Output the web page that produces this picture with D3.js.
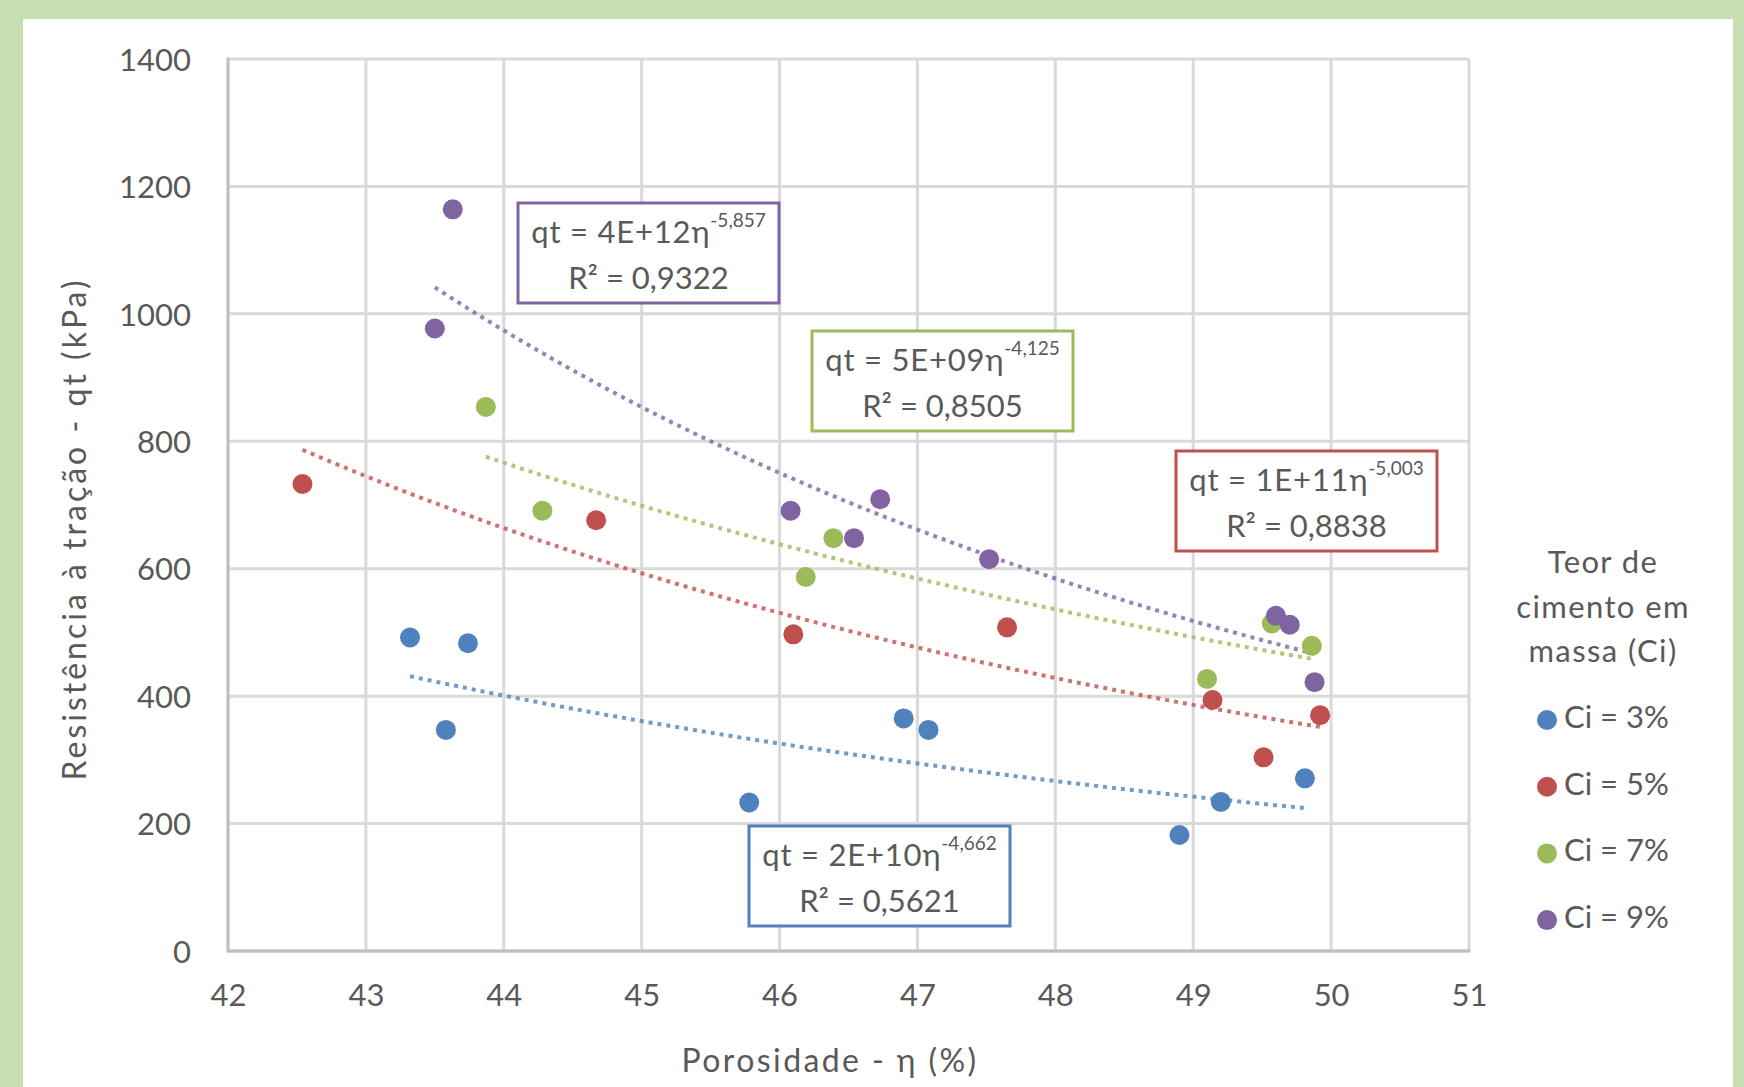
<!DOCTYPE html>
<html>
<head>
<meta charset="utf-8">
<script src="https://cdn.jsdelivr.net/npm/d3@7"></script>
<style>
    html, body { margin: 0; padding: 0; background: #c6e0b4; }
    svg { display: block; }
    text { font-family: Lato, "Open Sans", sans-serif; fill: #595959; }
</style>
</head>
<body>
<svg id="chart" width="1744" height="1087"></svg>
<script>
// ---- data ----
var seriesNames = ['Ci = 3%', 'Ci = 5%', 'Ci = 7%', 'Ci = 9%'];
var seriesColors = ['#4f81bd', '#c0504d', '#9bbb59', '#8064a2'];

var blueX = [43.32, 43.74, 43.58, 45.78, 46.90, 47.08, 48.90, 49.20, 49.81];
var blueY = [492, 483, 347, 233, 365, 347, 182, 234, 271];
var redX = [42.54, 44.67, 46.10, 47.65, 49.14, 49.51, 49.92];
var redY = [733, 676, 497, 508, 394, 304, 370];
var greenX = [43.87, 44.28, 46.19, 46.39, 49.10, 49.57, 49.86];
var greenY = [854, 691, 587, 648, 427, 514, 479];
var purpleX = [43.63, 43.50, 46.08, 46.54, 46.73, 47.52, 49.60, 49.70, 49.88];
var purpleY = [1164, 977, 691, 648, 709, 615, 526, 512, 422];

var xTicks = [42, 43, 44, 45, 46, 47, 48, 49, 50, 51];
var yTicks = [0, 200, 400, 600, 800, 1000, 1200, 1400];

// equation labels as printed on the chart
var eqCoef = ['qt = 2E+10\u03b7', 'qt = 1E+11\u03b7', 'qt = 5E+09\u03b7', 'qt = 4E+12\u03b7'];
var eqExp = ['-4,662', '-5,003', '-4,125', '-5,857'];
var eqR2 = ['R\u00b2 = 0,5621', 'R\u00b2 = 0,8838', 'R\u00b2 = 0,8505', 'R\u00b2 = 0,9322'];
var eqBoxPos = [[749, 826], [1176, 451], [812, 331], [518, 203]];

var legendTitle = ['Teor de', 'cimento em', 'massa (Ci)'];
var xTitle = 'Porosidade - \u03b7 (%)';
var yTitle = 'Resist\u00eancia \u00e0 tra\u00e7\u00e3o - qt (kPa)';

var allX = [blueX, redX, greenX, purpleX];
var allY = [blueY, redY, greenY, purpleY];

// ---- layout ----
var svg = d3.select('#chart');
var plot = { left: 228, right: 1469, top: 59, bottom: 951 };

svg.append('rect')
    .attr('x', 23).attr('y', 19)
    .attr('width', 1733 - 23).attr('height', 1087 - 19)
    .attr('fill', '#ffffff');

var x = d3.scaleLinear().domain([42, 51]).range([plot.left, plot.right]);
var y = d3.scaleLinear().domain([0, 1400]).range([plot.bottom, plot.top]);

// gridlines
svg.append('g')
    .selectAll('line.vgrid')
    .data(xTicks)
    .enter().append('line')
    .attr('x1', function (d) { return x(d); })
    .attr('x2', function (d) { return x(d); })
    .attr('y1', plot.top).attr('y2', plot.bottom)
    .attr('stroke', '#d9d9d9').attr('stroke-width', 3);

svg.append('g')
    .selectAll('line.hgrid')
    .data(yTicks)
    .enter().append('line')
    .attr('y1', function (d) { return y(d); })
    .attr('y2', function (d) { return y(d); })
    .attr('x1', plot.left).attr('x2', plot.right)
    .attr('stroke', '#d9d9d9').attr('stroke-width', 3);

// axis lines
svg.append('line')
    .attr('x1', plot.left).attr('x2', plot.left)
    .attr('y1', plot.top - 1.5).attr('y2', plot.bottom + 1.5)
    .attr('stroke', '#bfbfbf').attr('stroke-width', 3);
svg.append('line')
    .attr('x1', plot.left).attr('x2', plot.right + 1.5)
    .attr('y1', plot.bottom).attr('y2', plot.bottom)
    .attr('stroke', '#bfbfbf').attr('stroke-width', 3);

// tick labels via d3 axes, with the domain and ticks hidden
var xAxis = svg.append('g')
    .attr('transform', 'translate(0,' + plot.bottom + ')')
    .call(d3.axisBottom(x).tickValues(xTicks).tickSize(0).tickPadding(55).tickFormat(d3.format('d')));
var yAxis = svg.append('g')
    .attr('transform', 'translate(' + plot.left + ',0)')
    .call(d3.axisLeft(y).tickValues(yTicks).tickSize(0).tickPadding(37).tickFormat(d3.format('d')));

[xAxis, yAxis].forEach(function (g) {
    g.select('.domain').remove();
    g.selectAll('text')
        .style('font-family', 'Lato, sans-serif')
        .style('font-size', '31px')
        .attr('fill', '#595959');
});
xAxis.selectAll('text').attr('dy', 0).attr('y', 55);
yAxis.selectAll('text').attr('dy', '0.36em');

// axis titles
svg.append('text')
    .attr('x', 830).attr('y', 1072)
    .attr('text-anchor', 'middle')
    .style('font-size', '32px')
    .style('letter-spacing', '2.4px')
    .text(xTitle);

svg.append('text')
    .attr('transform', 'translate(86,529) rotate(-90)')
    .attr('text-anchor', 'middle')
    .style('font-size', '32px')
    .style('letter-spacing', '3px')
    .text(yTitle);

// power trendlines: least squares on ln(y) vs ln(x), like Excel
function powerFit(xs, ys) {
    var lx = xs.map(Math.log), ly = ys.map(Math.log);
    var mx = d3.mean(lx), my = d3.mean(ly);
    var sxy = d3.sum(lx, function (v, i) { return (v - mx) * (ly[i] - my); });
    var sxx = d3.sum(lx, function (v) { return (v - mx) * (v - mx); });
    var b = sxy / sxx;
    var a = Math.exp(my - b * mx);
    return function (v) { return a * Math.pow(v, b); };
}

var line = d3.line()
    .x(function (d) { return x(d[0]); })
    .y(function (d) { return y(d[1]); });

allX.forEach(function (xs, i) {
    var f = powerFit(xs, allY[i]);
    var lo = d3.min(xs), hi = d3.max(xs);
    var pts = d3.range(0, 61).map(function (k) {
        var v = lo + (hi - lo) * k / 60;
        return [v, f(v)];
    });
    svg.append('path')
        .datum(pts)
        .attr('d', line)
        .attr('fill', 'none')
        .attr('stroke', seriesColors[i])
        .attr('stroke-opacity', 0.8)
        .attr('stroke-width', 4)
        .attr('stroke-dasharray', '4,5');
});

// markers
allX.forEach(function (xs, i) {
    svg.append('g')
        .selectAll('circle')
        .data(xs)
        .enter().append('circle')
        .attr('cx', function (d) { return x(d); })
        .attr('cy', function (d, j) { return y(allY[i][j]); })
        .attr('r', 10)
        .attr('fill', seriesColors[i]);
});

// equation boxes
eqCoef.forEach(function (c, i) {
    var bx = eqBoxPos[i][0], by = eqBoxPos[i][1];
    var g = svg.append('g').attr('transform', 'translate(' + bx + ',' + by + ')');
    g.append('rect')
        .attr('width', 261).attr('height', 100)
        .attr('fill', '#ffffff')
        .attr('stroke', seriesColors[i])
        .attr('stroke-width', 3);
    var t1 = g.append('text')
        .attr('x', 130.5).attr('y', 40)
        .attr('text-anchor', 'middle')
        .style('font-size', '31px');
    t1.append('tspan').style('letter-spacing', '0.8px').text(c);
    t1.append('tspan')
        .attr('dy', -16)
        .style('font-size', '19px')
        .text(eqExp[i]);
    g.append('text')
        .attr('x', 130.5).attr('y', 86)
        .attr('text-anchor', 'middle')
        .style('font-size', '31px')
        .text(eqR2[i]);
});

// legend
svg.append('g')
    .selectAll('text')
    .data(legendTitle)
    .enter().append('text')
    .attr('x', 1603)
    .attr('y', function (d, i) { return 573 + i * 44.5; })
    .attr('text-anchor', 'middle')
    .style('font-size', '31px')
    .style('letter-spacing', '1.4px')
    .text(function (d) { return d; });

var legendItem = svg.append('g')
    .selectAll('g')
    .data(seriesNames)
    .enter().append('g')
    .attr('transform', function (d, i) { return 'translate(1547,' + (728 + i * 66.7) + ')'; });

legendItem.append('circle')
    .attr('cx', 0).attr('cy', -8)
    .attr('r', 10)
    .attr('fill', function (d, i) { return seriesColors[i]; });

legendItem.append('text')
    .attr('x', 17).attr('y', 0)
    .style('font-size', '31px')
    .text(function (d) { return d; });
</script>
</body>
</html>
